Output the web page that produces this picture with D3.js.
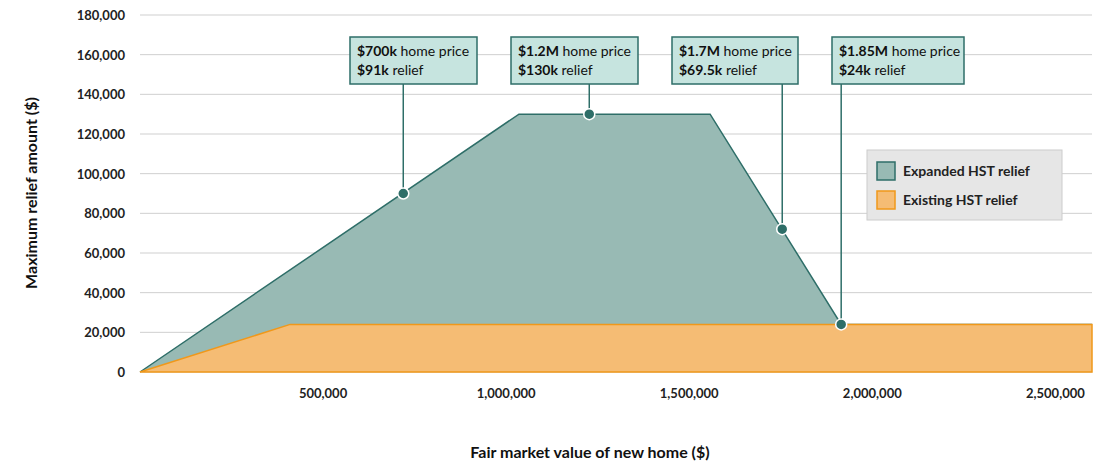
<!DOCTYPE html>
<html><head><meta charset="utf-8">
<script src="https://cdn.jsdelivr.net/npm/d3@7"></script>
<style>body{margin:0;background:#fff;font-family:Lato,'Open Sans',sans-serif}</style>
</head><body><svg id="c" width="1120" height="470"></svg>
<script>
const yTicks=[0,20000,40000,60000,80000,100000,120000,140000,160000,180000];
const xTicks=[500000,1000000,1500000,2000000,2500000];
const expandedX=[0,1035000,1557000,1915000,2600000];
const expandedY=[0,130000,130000,24000,24000];
const existingX=[0,410000,2600000];
const existingY=[0,24000,24000];
const markerX=[719000,1227000,1754000,1915000];
const markerY=[90000,130000,72000,24000];
const noteBold=["$700k","$1.2M","$1.7M","$1.85M"];
const noteRelief=["$91k","$130k","$69.5k","$24k"];
const boxLeft=[350,511,672,832],boxW=[127,127,126,132];

const svg=d3.select("#c");
const x=d3.scaleLinear().domain([0,2600000]).range([140,1092]);
const y=d3.scaleLinear().domain([0,180000]).range([372,15]);
const g=svg.append("g");
yTicks.forEach(t=>{
 g.append("line").attr("x1",140).attr("x2",1092).attr("y1",y(t)).attr("y2",y(t)).attr("stroke","#cfcfcf");
 g.append("text").attr("x",125).attr("y",y(t)+5).attr("text-anchor","end").attr("font-size",13).attr("font-weight",700).attr("fill","#222").text(d3.format(",")(t));
});
xTicks.forEach(t=>{
 g.append("text").attr("x",x(t)).attr("y",398).attr("text-anchor","middle").attr("font-size",13).attr("font-weight",700).attr("fill","#222").text(d3.format(",")(t));
});
const area=(xs,ys)=>d3.area().x((d,i)=>x(xs[i])).y0(y(0)).y1((d,i)=>y(ys[i]))(xs);
const line=(xs,ys)=>d3.line().x((d,i)=>x(xs[i])).y((d,i)=>y(ys[i]))(xs);
g.append("path").attr("d",area(expandedX,expandedY)).attr("fill","#98bab4");
g.append("path").attr("d",line(expandedX,expandedY)).attr("fill","none").attr("stroke","#2e6e68").attr("stroke-width",1.5);
g.append("path").attr("d",area(existingX,existingY)).attr("fill","#f5bc74").attr("stroke","#f0981a").attr("stroke-width",1.5);
markerX.forEach((mx,i)=>{
 const bx=boxLeft[i];
 g.append("line").attr("x1",x(mx)).attr("x2",x(mx)).attr("y1",84).attr("y2",y(markerY[i])).attr("stroke","#2e6e68").attr("stroke-width",1.5);
 g.append("rect").attr("x",bx).attr("y",37).attr("width",boxW[i]).attr("height",47).attr("fill","#c6e4df").attr("stroke","#2e6e68").attr("stroke-width",1.5);
 const t1=g.append("text").attr("x",bx+7).attr("y",56).attr("font-size",14).attr("fill","#111");
 t1.append("tspan").attr("font-weight",700).text(noteBold[i]);t1.append("tspan").text(" home price");
 const t2=g.append("text").attr("x",bx+7).attr("y",75).attr("font-size",14).attr("fill","#111");
 t2.append("tspan").attr("font-weight",700).text(noteRelief[i]);t2.append("tspan").text(" relief");
 g.append("circle").attr("cx",x(mx)).attr("cy",y(markerY[i])).attr("r",5.5).attr("fill","#2e6e68").attr("stroke","#fff").attr("stroke-width",1.5);
});
const lg=g.append("g");
lg.append("rect").attr("x",867).attr("y",150).attr("width",195).attr("height",70).attr("fill","#e6e6e6").attr("stroke","#ccc");
[["Expanded HST relief","#98bab4","#2e6e68"],["Existing HST relief","#f5bc74","#f0981a"]].forEach((d,i)=>{
 lg.append("rect").attr("x",877).attr("y",162+i*29).attr("width",18).attr("height",18).attr("fill",d[1]).attr("stroke",d[2]).attr("stroke-width",1.5);
 lg.append("text").attr("x",903).attr("y",176+i*29).attr("font-size",14).attr("font-weight",700).attr("fill","#222").text(d[0]);
});
g.append("text").attr("transform","translate(37,193) rotate(-90)").attr("text-anchor","middle").attr("font-size",16).attr("font-weight",700).attr("fill","#111").text("Maximum relief amount ($)");
g.append("text").attr("x",590).attr("y",458).attr("text-anchor","middle").attr("font-size",16).attr("font-weight",700).attr("fill","#111").text("Fair market value of new home ($)");
</script></body></html>
